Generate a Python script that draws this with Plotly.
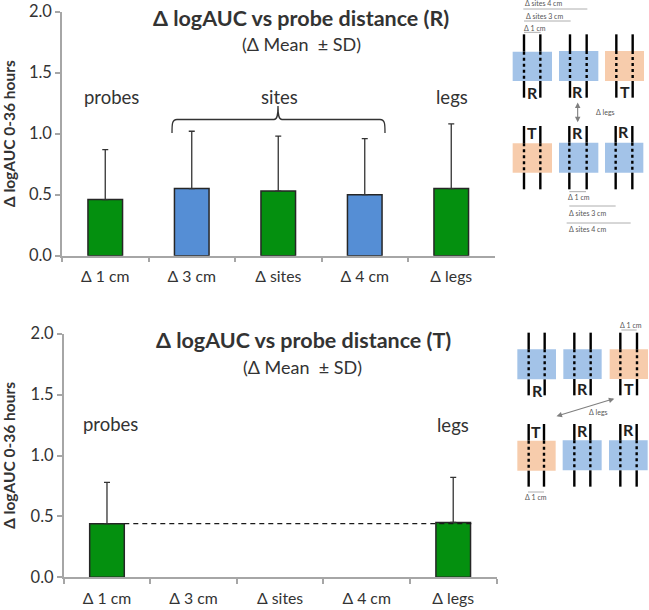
import plotly.graph_objects as go

categories = ["Δ 1 cm", "Δ 3 cm", "Δ sites", "Δ 4 cm", "Δ legs"]
r_means = [0.46, 0.55, 0.53, 0.50, 0.55]
r_sd = [0.41, 0.47, 0.45, 0.46, 0.53]
r_colors = ["#04900F", "#558ED5", "#04900F", "#558ED5", "#04900F"]
t_means = [0.44, None, None, None, 0.45]
t_sd = [0.34, None, None, None, 0.37]
t_colors = ["#04900F"] * 5

W, H = 649, 610
FONT = "Lato, Carlito, 'Open Sans', sans-serif"
TXT = "#333333"
AX = "#A6A6A6"
BLUE = "#A3C3E8"
ORANGE = "#F7CCAC"
GREY = "#7F7F7F"

def px(x):
    return x / W

def py(y):
    return 1 - y / H

fig = go.Figure()
for means, sd, colors, xa, ya in (
    (r_means, r_sd, r_colors, "x", "y"),
    (t_means, t_sd, t_colors, "x2", "y2"),
):
    fig.add_trace(go.Bar(
        x=categories, y=means, xaxis=xa, yaxis=ya, width=0.4,
        marker=dict(color=colors, line=dict(color="#262626", width=1.5)),
        error_y=dict(type="data", symmetric=False, array=sd,
                     arrayminus=[0 if v is not None else None for v in sd],
                     color="#333333", thickness=1.3, width=3),
        showlegend=False, hoverinfo="x+y",
    ))

axis_x = dict(type="category", categoryorder="array", categoryarray=categories,
              range=[-0.5, 4.5], showgrid=False, zeroline=False, showline=True,
              linecolor=AX, linewidth=1.5, ticks="outside", ticklen=5, tickcolor=AX,
              tickwidth=1.5, tickson="boundaries", ticklabelstandoff=6, automargin=False,
              tickfont=dict(family=FONT, size=15.8, color=TXT))
axis_y = dict(range=[0, 2], tick0=0, dtick=0.5, tickformat=".1f", showgrid=False,
              zeroline=False, showline=True, linecolor=AX, linewidth=1.5,
              ticks="outside", ticklen=5, tickcolor=AX, tickwidth=1.5, automargin=False,
              tickfont=dict(family=FONT, size=16.5, color=TXT),
              title=dict(text="<b>Δ logAUC 0-36 hours</b>",
                         font=dict(family=FONT, size=15.5, color=TXT)))

shapes = []
annotations = []

def label(x, y, text, size, color=TXT, bold=False):
    annotations.append(dict(
        xref="paper", yref="paper", x=px(x), y=py(y), text=f"<b>{text}</b>" if bold else text,
        showarrow=False, xanchor="center", yanchor="middle",
        font=dict(family=FONT, size=size, color=color)))

def hline(x0, x1, y, color="#999999", width=0.8):
    shapes.append(dict(type="line", xref="paper", yref="paper", x0=px(x0), x1=px(x1),
                       y0=py(y), y1=py(y), line=dict(color=color, width=width)))

def tile(ox, oy, box, probes, ytop, ybot, color):
    z = lambda v, o: o + v / 3
    x0, x1, y0, y1 = box
    shapes.append(dict(type="rect", xref="paper", yref="paper", layer="below",
                       x0=px(z(x0, ox)), x1=px(z(x1, ox)), y0=py(z(y0, oy)), y1=py(z(y1, oy)),
                       fillcolor=color, line=dict(width=0)))
    for p in probes:
        for a, b, dash in ((ytop, y0, "solid"), (y0, y1, "3px,3px"), (y1, ybot, "solid")):
            shapes.append(dict(type="line", xref="paper", yref="paper",
                               x0=px(z(p, ox)), x1=px(z(p, ox)),
                               y0=py(z(a, oy)), y1=py(z(b, oy)),
                               line=dict(color="black", width=2.4, dash=dash)))

def zlabel(ox, oy, x, y, text, size, color=TXT, bold=False):
    label(ox + x / 3, oy + y / 3, text, size, color, bold)

def zline(ox, oy, x0, x1, y):
    hline(ox + x0 / 3, ox + x1 / 3, oy + y / 3)

def arrow(ox, oy, x0, y0, x1, y1):
    annotations.append(dict(
        xref="paper", yref="paper", x=px(ox + x1 / 3), y=py(oy + y1 / 3),
        ax=(x0 - x1) / 3, ay=(y0 - y1) / 3, axref="pixel", ayref="pixel", text="",
        showarrow=True, arrowhead=2, startarrowhead=2, arrowside="end+start",
        arrowsize=1, arrowwidth=1.1, arrowcolor=GREY))

# Upper panel text
label(301, 18, "Δ logAUC vs probe distance (R)", 21.5, TXT, True)
label(301, 44, "(Δ Mean  ± SD)", 18)
label(111, 97, "probes", 18.5)
label(279, 97, "sites", 18.5)
label(452, 97, "legs", 18.5)
shapes.append(dict(type="path", xref="paper", yref="paper",
    path=" ".join([
        f"M {px(172)} {py(133)}", f"C {px(172)} {py(124)} {px(172)} {py(119.5)} {px(177)} {py(119.5)}",
        f"L {px(274)} {py(119.5)}", f"C {px(277)} {py(119.5)} {px(278)} {py(116)} {px(278)} {py(106)}",
        f"C {px(278)} {py(116)} {px(279)} {py(119.5)} {px(282)} {py(119.5)}",
        f"L {px(380)} {py(119.5)}", f"C {px(385)} {py(119.5)} {px(385)} {py(124)} {px(385)} {py(133)}",
    ]), line=dict(color="#333333", width=1.3)))

# Lower panel text
label(303, 340, "Δ logAUC vs probe distance (T)", 21.5, TXT, True)
label(302, 367, "(Δ Mean  ± SD)", 18)
label(110.5, 424, "probes", 18.5)
label(453, 425, "legs", 18.5)
shapes.append(dict(type="line", xref="x2", yref="y2", x0=0.2, x1=4.23, y0=0.44, y1=0.44,
                   line=dict(color="#1a1a1a", width=1.2, dash="5px,4px")))

# Upper schematic
ox, oy = 480, 0
for box, probes, c in (((98, 216, 155, 243), (132, 181), BLUE),
                       ((237, 355, 153, 243), (270, 320), BLUE),
                       ((375, 492, 153, 243), (409, 458), ORANGE)):
    tile(ox, oy, box, probes, 103, 293, c)
for box, probes, c in (((98, 216, 430, 518), (132, 181), ORANGE),
                       ((237, 355, 428, 518), (268, 320), BLUE),
                       ((375, 490, 428, 518), (407, 457), BLUE)):
    tile(ox, oy, box, probes, 378, 568, c)
for x, y, t in ((157, 277, "R"), (293, 273, "R"), (435, 275, "T"),
                (157, 398, "T"), (293, 397, "R"), (431, 393, "R")):
    zlabel(ox, oy, x, y, t, 16, "#222222", True)
for x, y, t in ((191, 10, "Δ sites 4 cm"), (193, 47, "Δ sites 3 cm"), (165, 83, "Δ 1 cm"),
                (375, 335, "Δ legs"), (297, 592, "Δ 1 cm"),
                (323, 640, "Δ sites 3 cm"), (323, 687, "Δ sites 4 cm")):
    zlabel(ox, oy, x, y, t, 7, "#555555")
for x0, x1, y in ((130, 322, 27), (132, 272, 63), (132, 182, 97),
                  (268, 318, 575), (268, 407, 618), (260, 452, 669)):
    zline(ox, oy, x0, x1, y)
arrow(ox, oy, 293, 303, 293, 367)

# Lower schematic
ox, oy = 480, 310
for box, probes, c in (((112, 228, 118, 208), (146, 194), BLUE),
                       ((250, 365, 118, 207), (283, 332), BLUE),
                       ((389, 504, 118, 207), (421, 471), ORANGE)):
    tile(ox, oy, box, probes, 68, 256, c)
for box, probes, c in (((112, 227, 392, 482), (146, 192), ORANGE),
                       ((248, 365, 391, 481), (283, 331), BLUE),
                       ((387, 503, 391, 481), (421, 470), BLUE)):
    tile(ox, oy, box, probes, 342, 530, c)
for x, y, t in ((172, 241, "R"), (306, 237, "R"), (448, 237, "T"),
                (168, 365, "T"), (306, 360, "R"), (446, 358, "R")):
    zlabel(ox, oy, x, y, t, 16, "#222222", True)
for x, y, t in ((452, 45, "Δ 1 cm"), (356, 305, "Δ legs"), (168, 561, "Δ 1 cm")):
    zlabel(ox, oy, x, y, t, 7, "#555555")
zline(ox, oy, 424, 470, 60)
zline(ox, oy, 144, 192, 546)
arrow(ox, oy, 225, 320, 403, 266)

fig.update_layout(
    width=W, height=H, margin=dict(l=0, r=0, t=0, b=0), autosize=False,
    paper_bgcolor="white", plot_bgcolor="rgba(0,0,0,0)", showlegend=False,
    bargap=0.6,
    xaxis=dict(axis_x, domain=[px(62), px(494.5)], anchor="y"),
    yaxis=dict(axis_y, domain=[py(255.7), py(11.7)], anchor="x"),
    xaxis2=dict(axis_x, domain=[px(63.7), px(496.5)], anchor="y2"),
    yaxis2=dict(axis_y, domain=[py(577.3), py(333.7)], anchor="x2"),
    shapes=shapes, annotations=annotations,
)

fig.write_html("out.html", config={"displayModeBar": False},
               post_script="document.body.style.margin='0';document.body.style.overflow='hidden';")
